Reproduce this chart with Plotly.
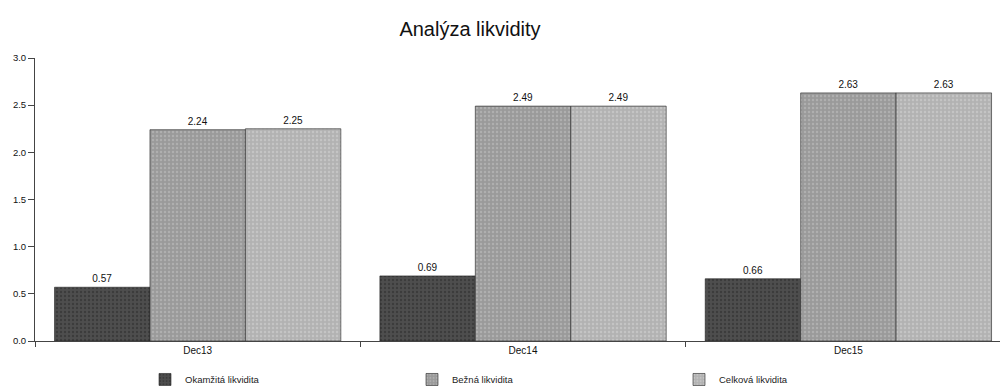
import plotly.graph_objects as go

categories = ["Dec13", "Dec14", "Dec15"]
okamzita = [0.57, 0.69, 0.66]
bezna = [2.24, 2.49, 2.63]
celkova = [2.25, 2.49, 2.63]
series_names = ["Okamžitá likvidita", "Bežná likvidita", "Celková likvidita"]
y_ticks = [0.0, 0.5, 1.0, 1.5, 2.0, 2.5, 3.0]

font_family = "Liberation Sans, Arial, sans-serif"
colors = ["#4e4e4e", "#9a9a9a", "#b2b2b2"]
fg = ["#2a2a2a", "#c4c4c4", "#d6d6d6"]

fig = go.Figure()
for name, vals, c, f in zip(series_names, [okamzita, bezna, celkova], colors, fg):
    fig.add_trace(go.Bar(
        x=categories, y=vals, name=name,
        text=[f"{v:.2f}" for v in vals], textposition="outside",
        textfont=dict(family=font_family, size=10, color="#111"),
        cliponaxis=False,
        marker=dict(color=c, line=dict(color="#222", width=0.6),
                    pattern=dict(shape=".", fgcolor=f, bgcolor=c, size=4, solidity=0.3)),
    ))

fig.update_layout(
    width=1000, height=390,
    margin=dict(l=35, r=0, t=58, b=49),
    paper_bgcolor="white", plot_bgcolor="white",
    barmode="group", bargap=0.12, bargroupgap=0,
    title=dict(text="Analýza likvidity", x=0.47, xanchor="center", y=0.925, yanchor="middle",
               font=dict(family=font_family, size=20, color="#111")),
    font=dict(family=font_family, color="#111"),
    showlegend=True,
    legend=dict(orientation="h", xref="container", yref="container",
                x=0.145, xanchor="left", y=0.027, yanchor="middle",
                entrywidth=222, entrywidthmode="pixels",
                font=dict(family=font_family, size=9.5, color="#222"),
                itemwidth=30, tracegroupgap=0, bgcolor="rgba(0,0,0,0)"),
)
fig.update_xaxes(
    range=[-0.5, 2.466], showline=True, linecolor="#444", linewidth=1,
    ticks="outside", tickson="boundaries", ticklen=5, tickcolor="#444",
    tickfont=dict(family=font_family, size=10, color="#111"),
    showgrid=False, zeroline=False,
)
fig.update_yaxes(
    range=[0, 3.0], tickvals=y_ticks, ticktext=[f"{v:.1f}" for v in y_ticks],
    showline=True, linecolor="#444", linewidth=1,
    ticks="outside", ticklen=6, tickcolor="#444",
    tickfont=dict(family=font_family, size=9.5, color="#111"),
    showgrid=False, zeroline=False,
)

fig.write_html("out.html")
